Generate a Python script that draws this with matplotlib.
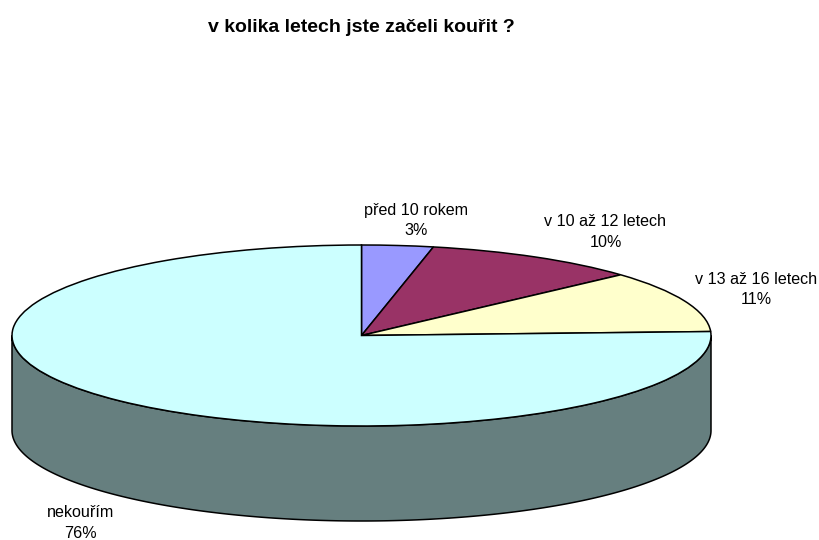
import numpy as np
import matplotlib
matplotlib.use("Agg")
import matplotlib.pyplot as plt

plt.rcParams['font.family'] = ['Liberation Sans', 'DejaVu Sans']

categories = ["před 10 rokem", "v 10 až 12 letech", "v 13 až 16 letech", "nekouřím"]
values = [3.3, 10.0, 11.0, 75.7]
value_labels = ["3%", "10%", "11%", "76%"]
colors = ["#9999ff", "#993366", "#ffffcc", "#ccffff"]
side_color = "#667f7f"
title = "v kolika letech jste začeli kouřit ?"

# pixel geometry of the reference
W, H = 820, 540
cx, cy = 361.5, 335.5
rx, ry = 349.5, 90.5
depth = 95

fig = plt.figure(figsize=(W / 100, H / 100), dpi=100)
ax = fig.add_axes([0, 0, 1, 1])

ax.pie(values, colors=colors, startangle=90, counterclock=False, radius=1,
       wedgeprops={"edgecolor": "black", "linewidth": 1.1, "zorder": 3})

# squash the pie to an ellipse, axes units are radii
ax.set_aspect("auto")
ax.set_xlim(-cx / rx, (W - cx) / rx)
ax.set_ylim((cy - H) / ry, cy / ry)
ax.axis("off")

# side wall of the cylinder
a = np.linspace(np.pi, 2 * np.pi, 400)
t = np.cos(a)
upper = np.sin(a)
lower = upper - depth / ry
ax.fill(np.r_[t, t[::-1]], np.r_[lower, upper[::-1]], facecolor=side_color,
        edgecolor="black", lw=1.1, zorder=1)


def px(x, y):
    return (x - cx) / rx, (cy - y) / ry


label_pos = [(416, 220.5), (605.5, 232), (756.5, 289.5), (80.5, 523)]
for name, val, (x, y) in zip(categories, value_labels, label_pos):
    tx, ty = px(x, y)
    ax.text(tx, ty, name + "\n" + val, ha="center", va="center", fontsize=11.6,
            linespacing=1.42, color="black")

tx, ty = px(361.5, 27)
ax.text(tx, ty, title, ha="center", va="center", fontsize=14, fontweight="bold")

plt.savefig("out.png", dpi=100)
